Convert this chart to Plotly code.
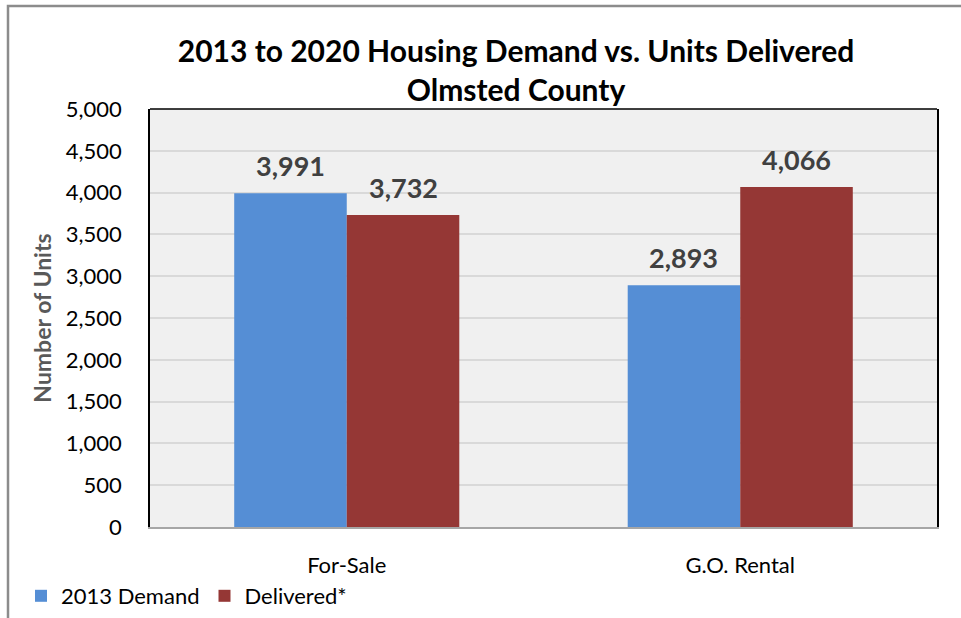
import plotly.graph_objects as go

categories = ["For-Sale", "G.O. Rental"]
demand_2013 = [3991, 2893]
delivered = [3732, 4066]
series_names = ["2013 Demand", "Delivered*"]
y_ticks = [0, 500, 1000, 1500, 2000, 2500, 3000, 3500, 4000, 4500, 5000]

FONT = "Lato, 'Open Sans', sans-serif"
W, H = 961, 618
ML, MR, MT, MB = 150, 24, 109, 91
pw, ph = W - ML - MR, H - MT - MB

fig = go.Figure()
fig.add_bar(x=categories, y=demand_2013, name=series_names[0], marker_color="#558ED5",
            marker_line_width=0)
fig.add_bar(x=categories, y=delivered, name=series_names[1], marker_color="#953735",
            marker_line_width=0)

bargap = 0.428
half = (1 - bargap) / 4 * pw / len(categories)
annotations = []
for vals, sgn in ((demand_2013, -1), (delivered, 1)):
    for c, v in zip(categories, vals):
        annotations.append(dict(x=c, y=v, text=f"{v:,}", showarrow=False, xshift=sgn * half,
                                yshift=28, yanchor="middle",
                                font=dict(family=FONT, size=27, color="#404040", weight="bold")))

fig.update_layout(
    width=W, height=H,
    margin=dict(l=ML, r=MR, t=MT, b=MB, autoexpand=False),
    paper_bgcolor="white", plot_bgcolor="#F0F0F0",
    barmode="group", bargap=bargap, bargroupgap=0,
    font=dict(family=FONT, color="black"),
    title=dict(text="2013 to 2020 Housing Demand vs. Units Delivered<br>Olmsted County",
               x=(516 - ML) / pw, xref="paper", xanchor="center",
               y=1 - 62 / H, yanchor="middle",
               font=dict(family=FONT, size=30, color="black", weight="bold")),
    annotations=annotations,
    showlegend=True,
    legend=dict(orientation="h", x=(21 - ML) / pw, xanchor="left",
                y=(H - MB - 596) / ph, yanchor="middle",
                font=dict(family=FONT, size=22, color="black"),
                bgcolor="rgba(0,0,0,0)", itemwidth=30, traceorder="normal"),
    yaxis=dict(range=[0, 5000], tickvals=y_ticks, tickformat=",d",
               showgrid=True, gridcolor="#D9D9D9", gridwidth=1.5,
               showline=True, linecolor="black", linewidth=1.5, mirror=True,
               zeroline=False, ticks="", ticklabelstandoff=22,
               tickfont=dict(family=FONT, size=22, color="black"),
               title=dict(text="Number of Units", standoff=8,
                          font=dict(family=FONT, size=23, color="#595959", weight="bold"))),
    xaxis=dict(showline=True, linecolor="#A6A6A6", linewidth=2, ticks="",
               ticklabelstandoff=18,
               tickfont=dict(family=FONT, size=22, color="black")),
    shapes=[
        dict(type="line", xref="paper", yref="paper", x0=0, x1=1, y0=1, y1=1,
             line=dict(color="black", width=1.5)),
        dict(type="rect", xref="paper", yref="paper",
             x0=(8 - ML) / pw, x1=1.2, y0=-0.5, y1=(H - MB - 6) / ph,
             line=dict(color="#8C8C8C", width=2.5), layer="below"),
    ],
)

fig.write_html("out.html", config={"displayModeBar": False},
               post_script="document.body.style.margin='0px';")
